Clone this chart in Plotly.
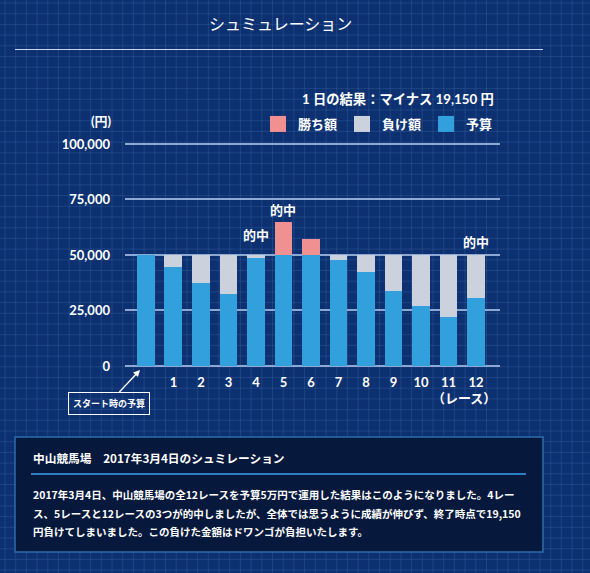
import plotly.graph_objects as go

# ---------------- data ----------------
races = list(range(0, 13))                     # 0 = start budget
race_labels = ["", "1", "2", "3", "4", "5", "6", "7", "8", "9", "10", "11", "12"]
start_budget = 50000
balance = [50000, 44400, 37200, 32250, 48600, 64700, 57000,
           47550, 42150, 33600, 27000, 22200, 30850]
hit_races = [4, 5, 12]
hit_shift = [18, 10, 11]
y_ticks = [0, 25000, 50000, 75000, 100000]
y_tick_text = ["0", "25,000", "50,000", "75,000", "100,000"]

budget_part = [min(v, start_budget) for v in balance]
loss_part = [max(start_budget - v, 0) for v in balance]
win_part = [max(v - start_budget, 0) for v in balance]

# ---------------- page geometry helpers ----------------
W, H = 590, 573
def px(x):
    return x / W
def py(y):
    return 1 - y / H

FONT = "Lato, 'Noto Sans CJK JP', sans-serif"
JFONT = "'Noto Sans CJK JP', Lato, sans-serif"
BG = "#0d3170"
BLUE = "#33a0de"
GREY = "#cbd2dd"
PINK = "#f09090"

fig = go.Figure()
series = [("予算", budget_part, BLUE), ("負け額", loss_part, GREY), ("勝ち額", win_part, PINK)]
for name, vals, col in series:
    fig.add_trace(go.Bar(x=races, y=vals, name=name, marker_color=col,
                         marker_line_width=0, hoverinfo="skip", showlegend=False))
for name, vals, col in series:
    fig.add_trace(go.Scatter(x=[None], y=[None], name=name, mode="markers",
                             marker=dict(symbol="square", size=16, color=col),
                             showlegend=True))

# background grid pattern
path = []
x = 5.0
while x < W:
    path.append(f"M{px(x):.5f},0 L{px(x):.5f},1")
    x += 10.7
y = 3.0
while y < H:
    path.append(f"M0,{py(y):.5f} L1,{py(y):.5f}")
    y += 10.7
shapes = [
    dict(type="path", xref="paper", yref="paper", path=" ".join(path),
         line=dict(color="rgba(120,165,230,0.16)", width=1), layer="below"),
    dict(type="line", xref="paper", yref="paper", x0=px(15), x1=px(543),
         y0=py(49.5), y1=py(49.5), line=dict(color="#c9d6ee", width=1.2)),
    dict(type="rect", xref="paper", yref="paper", x0=px(15), x1=px(543),
         y0=py(437), y1=py(552), fillcolor="#06183b",
         line=dict(color="#2c6cae", width=1.5), layer="below"),
    dict(type="line", xref="paper", yref="paper", x0=px(31), x1=px(526),
         y0=py(474), y1=py(474), line=dict(color="#2f7dc2", width=2)),
]

def note(text, x, y, size, xanchor="center", font=FONT):
    return dict(text=text, xref="paper", yref="paper", x=px(x), y=py(y),
                xanchor=xanchor, yanchor="middle", showarrow=False,
                font=dict(family=font, size=size, color="white", weight="bold"))

annotations = [
    dict(text="シュミュレーション", xref="paper", yref="paper", x=px(280), y=py(23),
         xanchor="center", yanchor="middle", showarrow=False,
         font=dict(family=JFONT, size=16, color="white")),
    note("1 日の結果：マイナス 19,150 円", 496, 99, 13.3, xanchor="right"),
    note("(円)", 101, 121, 13),
    note("（レース）", 464, 398, 13),
    note("中山競馬場　2017年3月4日のシュミレーション", 31, 457, 11.7, xanchor="left", font=JFONT),
    dict(text="スタート時の予算", xref="paper", yref="paper", x=px(140), y=py(370),
         ax=-31, ay=33, showarrow=True, arrowhead=2, arrowsize=1, arrowwidth=1.3,
         arrowcolor="white", bordercolor="white", borderwidth=1, borderpad=4,
         font=dict(family=JFONT, size=9, color="white", weight="bold")),
]
body_lines = [
    "2017年3月4日、中山競馬場の全12レースを予算5万円で運用した結果はこのようになりました。4レー",
    "ス、5レースと12レースの3つが的中しましたが、全体では思うように成績が伸びず、終了時点で19,150",
    "円負けてしまいました。この負けた金額はドワンゴが負担いたします。",
]
for line, yy in zip(body_lines, [494, 513, 531]):
    annotations.append(note(line, 31, yy, 10.5, xanchor="left", font=JFONT))
for r, s in zip(hit_races, hit_shift):
    top = max(balance[r], start_budget)
    annotations.append(dict(text="的中", x=r, y=top, xanchor="center", yanchor="bottom",
                            yshift=s - 9, showarrow=False,
                            font=dict(family=JFONT, size=13, color="white", weight="bold")))

ypad = 500            # small range padding so end gridlines are drawn
yppx = 450            # yen per pixel
fig.update_layout(
    width=W, height=H,
    margin=dict(l=0, r=0, t=0, b=0, autoexpand=False),
    paper_bgcolor=BG, plot_bgcolor="rgba(0,0,0,0)",
    barmode="stack", bargap=0.35,
    showlegend=True,
    legend=dict(orientation="h", x=px(498), xanchor="right",
                y=py(124), yanchor="middle", bgcolor="rgba(0,0,0,0)",
                font=dict(family=FONT, size=13, color="white", weight="bold"),
                itemclick=False, itemdoubleclick=False),
    xaxis=dict(domain=[px(125), px(500)], range=[-0.76, 12.87], showgrid=False,
               zeroline=False, showline=False, tickmode="array", tickvals=races,
               ticktext=race_labels, ticks="", ticklabelstandoff=6,
               tickfont=dict(family=FONT, size=13, color="white", weight="bold")),
    yaxis=dict(domain=[py(366 + ypad / yppx), py(144 - ypad / yppx)],
               range=[-ypad, 100000 + ypad], showgrid=True,
               gridcolor="#8ea8d4", gridwidth=1.5, zeroline=False, showline=False,
               tickmode="array", tickvals=y_ticks, ticktext=y_tick_text,
               ticklabelstandoff=14,
               tickfont=dict(family=FONT, size=13, color="white", weight="bold")),
    shapes=shapes,
    annotations=annotations,
)

fig.write_html("out.html", post_script="document.body.style.margin='0';")
